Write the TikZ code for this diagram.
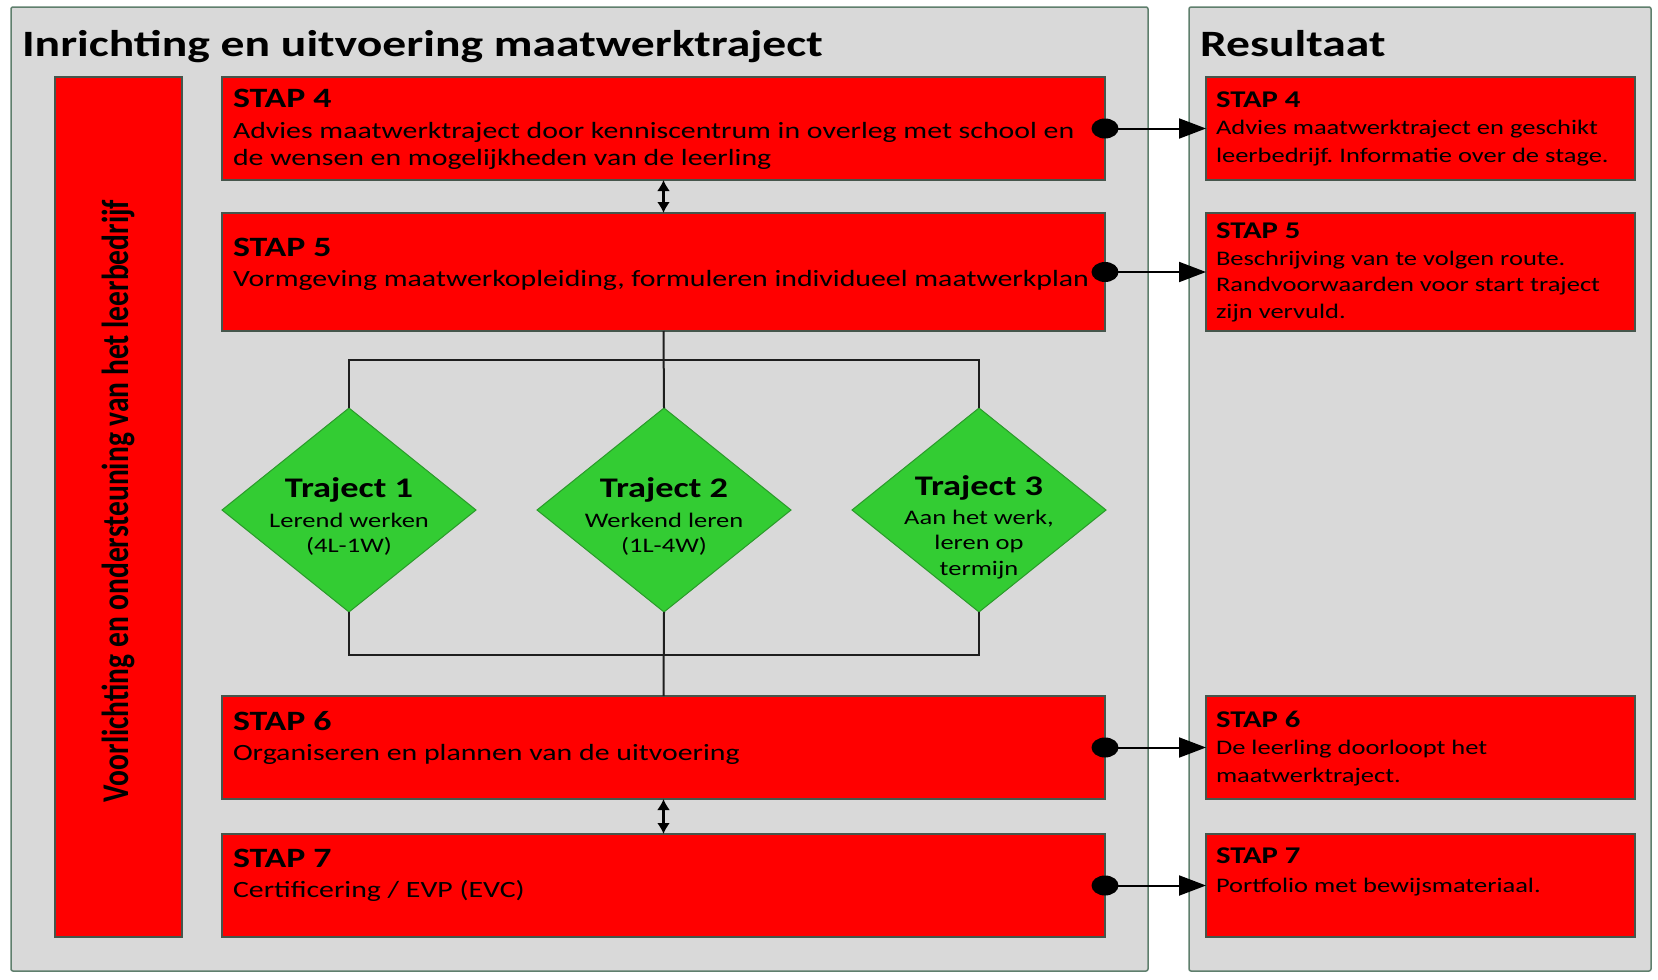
\documentclass[tikz,border=0pt]{standalone}
\usepackage{fontspec}
\setmainfont{Carlito}[FakeStretch=1.28]
\newfontfamily\plainfont{Carlito}
\usetikzlibrary{shapes.geometric,arrows.meta}
\definecolor{panelgray}{HTML}{D9D9D9}
\definecolor{panelborder}{HTML}{5F7F6D}
\definecolor{boxred}{HTML}{FF0000}
\definecolor{boxborder}{HTML}{46564C}
\definecolor{trgreen}{HTML}{33CC33}
\definecolor{trborder}{HTML}{2A9A2A}
\definecolor{linecol}{HTML}{1E1E1E}
\newcommand\fs[1]{\fontsize{#1}{#1}\selectfont}
\frenchspacing
\begin{document}
\begin{tikzpicture}[x=1pt,y=-1pt,
  panel/.style={draw=panelborder,line width=1.5pt,fill=panelgray,rounded corners=2pt,anchor=north west,inner sep=0pt,outer sep=0pt},
  redbox/.style={draw=boxborder,line width=1.5pt,fill=boxred,anchor=north west,inner sep=0pt,outer sep=0pt},
  txt/.style={anchor=base west,inner sep=0pt,outer sep=0pt,text=black},
  ctxt/.style={anchor=base,inner sep=0pt,outer sep=0pt,text=black},
  lbig/.style={font=\fs{28}\bfseries},
  bbig/.style={font=\fs{23.3}},
  lsmall/.style={font=\fs{24}\bfseries},
  bsmall/.style={font=\fs{20.7}},
  ttl/.style={font=\fs{37.2}\bfseries},
  trj/.style={diamond,fill=trgreen,draw=trborder,line width=1pt,minimum width=254pt,minimum height=204pt,inner sep=0pt,outer sep=0pt},
  ln/.style={draw=linecol,line width=2pt},
  dbl/.style={draw=black,line width=2.4pt,{Latex[length=11pt,width=13pt]}-{Latex[length=11pt,width=13pt]}},
  res/.style={draw=black,line width=2pt,-{Triangle[length=27pt,width=20pt]}},
]
\fill[white] (0,0) rectangle (1658,980);
\useasboundingbox (0,0) rectangle (1658,980);

% panels
\node[panel,minimum width=1137pt,minimum height=964pt] (pl) at (11,7) {};
\node[panel,minimum width=462pt,minimum height=964pt] (pr) at (1189,7) {};
\node[txt,ttl] (tl) at (22,56) {Inrichting en uitvoering maatwerktraject};
\node[txt,ttl] (tr) at (1200,56) {Resultaat};

% left bar
\node[redbox,minimum width=127pt,minimum height=860pt] (bar) at (55,77) {};
\node[rotate=90,inner sep=0pt] (bart) at ([yshift=6pt]bar.center) {\plainfont\fs{29.5}\bfseries\scalebox{1}[1.28]{Voorlichting en ondersteuning van het leerbedrijf}};

% left boxes
\node[redbox,minimum width=883pt,minimum height=103pt] (s4) at (222,77) {};
\node[redbox,minimum width=883pt,minimum height=118pt] (s5) at (222,213) {};
\node[redbox,minimum width=883pt,minimum height=103pt] (s6) at (222,696) {};
\node[redbox,minimum width=883pt,minimum height=103pt] (s7) at (222,834) {};

\node[txt,lbig] (s4l) at (233,107) {STAP 4};
\node[txt,bbig] (s4b) at (233,138) {\vtop{\baselineskip=27pt\hbox{Advies maatwerktraject door kenniscentrum in overleg met school en}\hbox{de wensen en mogelijkheden van de leerling}}};
\node[txt,lbig] (s5l) at (233,256) {STAP 5};
\node[txt,bbig] (s5b) at (233,286) {Vormgeving maatwerkopleiding, formuleren individueel maatwerkplan};
\node[txt,lbig] (s6l) at (233,730) {STAP 6};
\node[txt,bbig] (s6b) at (233,760) {Organiseren en plannen van de uitvoering};
\node[txt,lbig] (s7l) at (233,867) {STAP 7};
\node[txt,bbig] (s7b) at (233,897) {Certificering / EVP (EVC)};

% right boxes
\node[redbox,minimum width=429pt,minimum height=103pt] (r4) at (1206,77) {};
\node[redbox,minimum width=429pt,minimum height=118pt] (r5) at (1206,213) {};
\node[redbox,minimum width=429pt,minimum height=103pt] (r6) at (1206,696) {};
\node[redbox,minimum width=429pt,minimum height=103pt] (r7) at (1206,834) {};

\node[txt,lsmall] (r4l) at (1216,107) {STAP 4};
\node[txt,bsmall] (r4b) at (1216,134) {\vtop{\baselineskip=28pt\hbox{Advies maatwerktraject en geschikt}\hbox{leerbedrijf. Informatie over de stage.}}};
\node[txt,lsmall] (r5l) at (1216,238) {STAP 5};
\node[txt,bsmall] (r5b) at (1216,265) {\vtop{\baselineskip=26.5pt\hbox{Beschrijving van te volgen route.}\hbox{Randvoorwaarden voor start traject}\hbox{zijn vervuld.}}};
\node[txt,lsmall] (r6l) at (1216,727) {STAP 6};
\node[txt,bsmall] (r6b) at (1216,754) {\vtop{\baselineskip=28pt\hbox{De leerling doorloopt het}\hbox{maatwerktraject.}}};
\node[txt,lsmall] (r7l) at (1216,863) {STAP 7};
\node[txt,bsmall] (r7b) at (1216,892) {Portfolio met bewijsmateriaal.};

% diamonds
\node[trj] (d1) at (349,510) {};
\node[trj] (d2) at (664,510) {};
\node[trj] (d3) at (979,510) {};
\node[ctxt,font=\fs{28.4}\bfseries] (d1t) at (d1.center |- 0,497) {Traject 1};
\node[ctxt,font=\fs{20.7}] (d1b) at (d1.center |- 0,527) {\vtop{\baselineskip=25pt\halign{\hfil#\hfil\cr Lerend werken\cr (4L-1W)\cr}}};
\node[ctxt,font=\fs{28.4}\bfseries] (d2t) at (d2.center |- 0,497) {Traject 2};
\node[ctxt,font=\fs{20.7}] (d2b) at (d2.center |- 0,527) {\vtop{\baselineskip=25pt\halign{\hfil#\hfil\cr Werkend leren\cr (1L-4W)\cr}}};
\node[ctxt,font=\fs{28.4}\bfseries] (d3t) at (d3.center |- 0,495) {Traject 3};
\node[ctxt,font=\fs{20.7}] (d3b) at (d3.center |- 0,524) {\vtop{\baselineskip=25.5pt\halign{\hfil#\hfil\cr Aan het werk,\cr leren op\cr termijn\cr}}};

% connectors in the middle
\coordinate (tb) at (s5.south |- 0,360);
\coordinate (bb) at (s5.south |- 0,655);
\draw[ln] (s5.south) -- (d2.north);
\draw[ln] (d1.north) |- (tb) -| (d3.north);
\draw[ln] (d2.south) -- (s6.north);
\draw[ln] (d1.south) |- (bb) -| (d3.south);

% double arrows
\draw[dbl] (s4.south) -- (s5.north);
\draw[dbl] (s6.south) -- (s7.north);

% result arrows
\foreach \a/\b in {s4/r4,s5/r5,s6/r6,s7/r7}{
  \fill[black] (\a.east) ellipse [x radius=13.5pt,y radius=10pt];
  \draw[res] (\a.east) -- (\b.west);
}
\end{tikzpicture}
\end{document}
